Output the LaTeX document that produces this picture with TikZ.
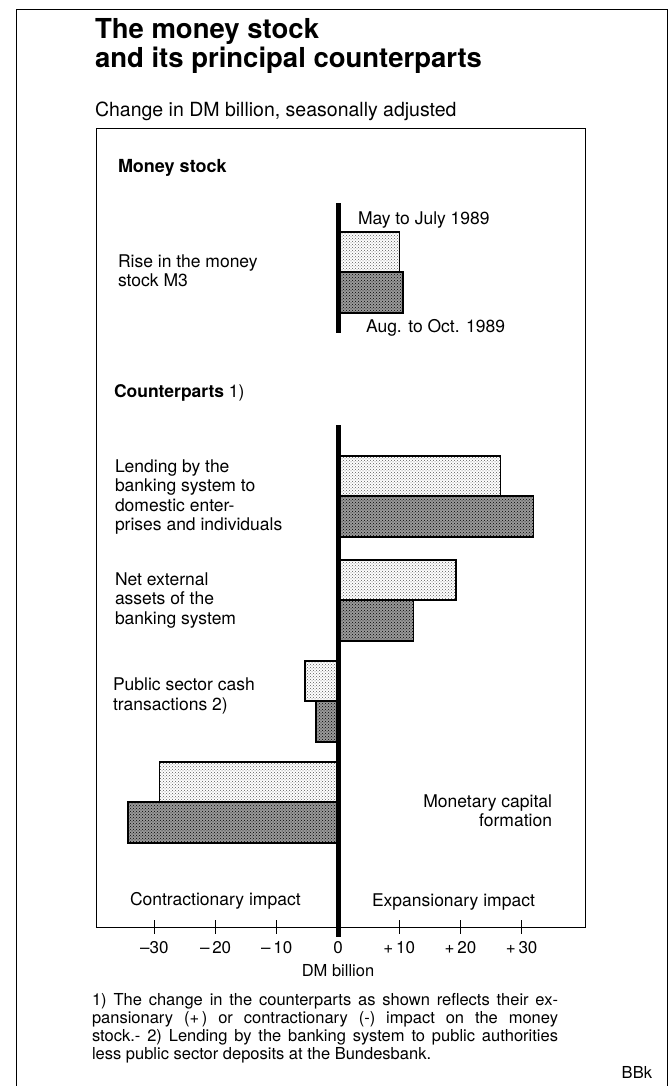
\documentclass[tikz,border=0pt]{standalone}
\usepackage{fontspec}
\setmainfont{TeX Gyre Heros}
\usepackage{tikz}
\usetikzlibrary{patterns}
\tikzstyle{txt}=[inner sep=0, outer sep=0, anchor=base west, align=left,
                 font=\fontsize{17.5}{19.5}\selectfont]
\tikzstyle{ttl}=[txt, font=\fontsize{27.5}{29}\selectfont\bfseries]
\tikzstyle{note}=[txt, font=\fontsize{16.5}{18}\selectfont]
\tikzstyle{pmay}=[draw=black, line width=1.3pt, pattern=crosshatch dots,
                  pattern color=black!65]
\tikzstyle{paug}=[draw=black, line width=1.3pt, preaction={fill=black!40},
                  pattern=crosshatch dots, pattern color=black]
\tikzstyle{frm}=[draw=black, line width=1pt]

\begin{document}
\begin{tikzpicture}[x=1pt, y=-1pt]
\path[use as bounding box] (0,0) rectangle (669,1086);
\draw[frm] (16,1086) -- (16,10) -- (667,10) -- (667,1086);
% multi-line nodes sit on the baseline of their last line
\node[ttl] (title) at (95,68) {The money stock\\and its principal counterparts};
\node[txt, font=\fontsize{19.5}{22}\selectfont] (sub) at (95,117)
  {Change in DM billion, seasonally adjusted};
\draw[frm] (96,129) rectangle (585,927);
\node[txt, font=\fontsize{18}{19.5}\selectfont\bfseries] (mshead) at (118,172) {Money stock};
\node[txt] (cphead) at (114,397) {\textbf{Counterparts} 1)};
% bars: top / May-July / Aug.-Oct.
\foreach \y/\a/\b in {232/10/10.6, 456/26.6/32, 560/19.3/12.3,
                      661/-5.4/-3.6, 762/-29.2/-34.3}{
  \draw[pmay] (338,\y) rectangle ++(6.12*\a,40);
  \draw[paug] (338,\y+40) rectangle ++(6.12*\b,41);
}
\draw[line width=5pt] (338,203) -- (338,333);
\draw[line width=5pt] (338,425) -- (338,937);
\node[txt] (lmay) at (358,224) {May to July 1989};
\node[txt] (laug) at (366,332) {Aug. to Oct. 1989};
\node[txt] (lrise) at (118,286.5) {Rise in the money\\stock M3};
\node[txt] (llend) at (115,530.5) {Lending by the\\banking system to\\domestic enter-\\prises and individuals};
\node[txt] (lnet) at (115,624) {Net external\\assets of the\\banking system};
\node[txt] (lpub) at (113,710) {Public sector cash\\transactions 2)};
\node[txt, anchor=base east, align=right] (lmon) at (552,826.5) {Monetary capital\\formation};
\node[txt] (lcon) at (130,905) {Contractionary impact};
\node[txt] (lexp) at (372,906) {Expansionary impact};
% axis
\foreach \v/\l in {-30/{--30}, -20/{--\,20}, -10/{--\,10}, 0/0,
                   10/{+\,10}, 20/{+\,20}, 30/{+\,30}}{
  \draw[line width=1pt] (338+6.12*\v,920) -- (338+6.12*\v,934);
  \node[txt, anchor=base, font=\fontsize{17}{19}\selectfont] (t\v) at (338+6.12*\v,953) {\l};
}
\node[txt, anchor=base, font=\fontsize{16.5}{19}\selectfont] (unit) at (338,976) {DM billion};
\node[note] (fn) at (92,1059)
  {\hbox to 466pt{1) The change in the counterparts as shown reflects their ex-}\\
   \hbox to 466pt{pansionary (+\,) or contractionary (-) impact on the money}\\
   \hbox to 466pt{stock.- 2) Lending by the banking system to public authorities}\\
   less public sector deposits at the Bundesbank.};
\node[note, anchor=base east] (bbk) at (652,1078) {BBk};
\end{tikzpicture}
\end{document}
